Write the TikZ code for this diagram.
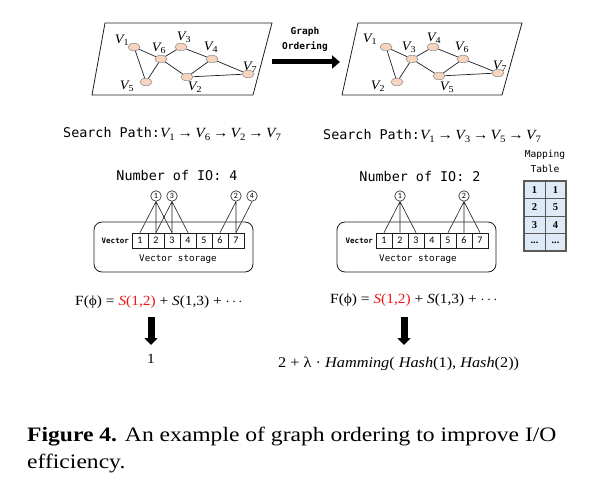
\documentclass[tikz,border=0pt]{standalone}
\usepackage{fontspec}
\setmainfont{Liberation Serif}
\newfontfamily\monof{DejaVu Sans Mono}
\newfontfamily\calf{Carlito}
\newfontfamily\formf[FakeStretch=1.1]{Liberation Serif}
\newfontfamily\capf[FakeStretch=1.15]{Liberation Serif}
\newcommand{\vv}[1]{{\formf\itshape V}\textsubscript{\formf #1}}
\newcommand{\arr}{\,{\formf →}\,}
\usetikzlibrary{arrows.meta,shapes.geometric}

\definecolor{vfill}{RGB}{247,212,190}
\definecolor{vdraw}{RGB}{150,150,150}
\definecolor{edgec}{RGB}{25,30,35}
\definecolor{tfill}{RGB}{222,235,247}
\definecolor{tdraw}{RGB}{90,90,90}
\definecolor{sred}{RGB}{240,20,20}

\begin{document}
\begin{tikzpicture}[x=1pt,y=-1pt,
  vert/.style={ellipse, draw=vdraw, fill=vfill, minimum width=12pt, minimum height=7.5pt, inner sep=0pt, line width=0.6pt},
  vlab/.style={font=\fontsize{13}{13}\selectfont, inner sep=0pt},
  gedge/.style={draw=edgec, line width=0.7pt},
  plane/.style={draw=edgec, line width=0.8pt},
  bigarrow/.style={line width=5pt, -{Triangle[length=8pt,width=13pt]}},
  downarrow/.style={line width=7pt, -{Triangle[length=7pt,width=13pt]}},
  monotxt/.style={font=\monof\fontsize{13.4}{14}\selectfont, inner sep=0pt},
  cell/.style={draw=edgec, line width=0.6pt, minimum width=16pt, minimum height=15pt, inner sep=0pt, font=\calf\fontsize{10}{10}\selectfont},
  numc/.style={circle, draw=edgec, line width=0.6pt, minimum size=10.5pt, inner sep=0pt, font=\calf\fontsize{8}{8}\selectfont},
  storebox/.style={draw=edgec, line width=0.8pt, rounded corners=8pt, minimum width=159pt, minimum height=50pt, inner sep=0pt},
  vecl/.style={font=\monof\bfseries\fontsize{7.5}{8}\selectfont, inner sep=0pt},
  storel/.style={font=\monof\fontsize{9.2}{10}\selectfont, inner sep=0pt},
  link/.style={draw=edgec, line width=0.6pt},
  formula/.style={font=\formf\fontsize{14}{16}\selectfont, inner sep=0pt},
  tcell/.style={font=\bfseries\fontsize{10.5}{11}\selectfont, inner sep=0pt},
  captxt/.style={font=\capf\fontsize{20.5}{27}\selectfont, inner sep=0pt}
]
\useasboundingbox (0,0) rectangle (600,484);

% ---------- left graph ----------
\draw[plane] (105,23) -- (272,23) -- (253,95) -- (92,95) -- cycle;
\node[vert] (a1) at (134,47) {};
\node[vert] (a6) at (161,59) {};
\node[vert] (a3) at (181,47) {};
\node[vert] (a4) at (212,59) {};
\node[vert] (a5) at (146,82) {};
\node[vert] (a2) at (187,77) {};
\node[vert] (a7) at (248,74) {};
\draw[gedge] (a1) -- (a6) (a1) -- (a5) (a5) -- (a6) (a6) -- (a3) (a6) -- (a2)
  (a3) -- (a4) (a4) -- (a2) (a4) -- (a7) (a2) -- (a7);
\node[vlab] (la1) at (122,40) {\vv{1}};
\node[vlab] (la6) at (159,48) {\vv{6}};
\node[vlab] (la3) at (184,37) {\vv{3}};
\node[vlab] (la4) at (211,47) {\vv{4}};
\node[vlab] (la5) at (127,86) {\vv{5}};
\node[vlab] (la2) at (195,87) {\vv{2}};
\node[vlab] (la7) at (250,67) {\vv{7}};

% ---------- graph ordering arrow ----------
\coordinate (ga1) at (272,62);
\coordinate (ga2) at (340,62);
\draw[bigarrow] (ga1) -- (ga2);
\node[font=\monof\bfseries\fontsize{9.5}{10}\selectfont, inner sep=0pt] (go1) at (305,32) {Graph};
\node[font=\monof\bfseries\fontsize{9.5}{10}\selectfont, inner sep=0pt] (go2) at (305,47) {Ordering};

% ---------- right graph ----------
\draw[plane] (358,23) -- (522,23) -- (502,95) -- (342,95) -- cycle;
\node[vert] (b1) at (386,47) {};
\node[vert] (b3) at (412,59) {};
\node[vert] (b4) at (433,47) {};
\node[vert] (b6) at (463,59) {};
\node[vert] (b2) at (397,82) {};
\node[vert] (b5) at (439,76) {};
\node[vert] (b7) at (498,73) {};
\draw[gedge] (b1) -- (b3) (b1) -- (b2) (b2) -- (b3) (b3) -- (b4) (b3) -- (b5)
  (b4) -- (b6) (b6) -- (b5) (b6) -- (b7) (b5) -- (b7);
\node[vlab] (lb1) at (370,39) {\vv{1}};
\node[vlab] (lb3) at (409,47) {\vv{3}};
\node[vlab] (lb4) at (434,38) {\vv{4}};
\node[vlab] (lb6) at (462,47) {\vv{6}};
\node[vlab] (lb2) at (378,86) {\vv{2}};
\node[vlab] (lb5) at (447,87) {\vv{5}};
\node[vlab] (lb7) at (500,66) {\vv{7}};

% ---------- search paths ----------
\node[monotxt, anchor=base west] (spL) at (63,138) {Search Path:{\fontsize{14}{14}\selectfont\vv{1}\arr\vv{6}\arr\vv{2}\arr\vv{7}}};
\node[monotxt, anchor=base west] (spR) at (323,140) {Search Path:{\fontsize{14}{14}\selectfont\vv{1}\arr\vv{3}\arr\vv{5}\arr\vv{7}}};

\node[monotxt, anchor=base] (ioL) at (177,180) {Number of IO: 4};
\node[monotxt, anchor=base] (ioR) at (420,182) {Number of IO: 2};

% ---------- left storage ----------
\node[storebox] (boxL) at (173.5,247) {};
\foreach \i in {1,...,7} {
  \node[cell, fill=white] (L\i) at ({132+16*(\i-0.5)},240.5) {\i};
}
\node[vecl, anchor=east] (vecL) at (129,241) {Vector};
\node[storel] (stL) at (178,259) {Vector storage};
\node[numc] (cL1) at (156,196) {1};
\node[numc] (cL3) at (172,196) {3};
\node[numc] (cL2) at (236,196) {2};
\node[numc] (cL4) at (252,196) {4};
\draw[link] (cL1.south) -- (L1.north) (cL1.south) -- (L2.north) (cL1.south) -- (L3.north);
\draw[link] (cL3.south) -- (L2.north) (cL3.south) -- (L3.north) (cL3.south) -- (L4.north);
\draw[link] (cL2.south) -- (L6.north) (cL2.south) -- (L7.north);
\draw[link] (cL4.south) -- (L7.north);

% ---------- right storage ----------
\node[storebox] (boxR) at (416.5,247) {};
\foreach \i in {1,...,7} {
  \node[cell, fill=white] (R\i) at ({376+16*(\i-0.5)},240.5) {\i};
}
\node[vecl, anchor=east] (vecR) at (373,241) {Vector};
\node[storel] (stR) at (418,259) {Vector storage};
\node[numc] (cR1) at (400,196) {1};
\node[numc] (cR2) at (464,196) {2};
\draw[link] (cR1.south) -- (R1.north) (cR1.south) -- (R2.north) (cR1.south) -- (R3.north);
\draw[link] (cR2.south) -- (R5.north) (cR2.south) -- (R6.north) (cR2.south) -- (R7.north);

% ---------- mapping table ----------
\node[font=\monof\fontsize{9.6}{10}\selectfont, inner sep=0pt, anchor=base] (mt1) at (545,158) {Mapping};
\node[font=\monof\fontsize{9.6}{10}\selectfont, inner sep=0pt, anchor=base] (mt2) at (545,172) {Table};
\fill[tfill] (524,181) rectangle (566,251);
\draw[tdraw, line width=0.7pt] (545,181) -- (545,251)
  (524,198.5) -- (566,198.5) (524,216) -- (566,216) (524,233.5) -- (566,233.5);
\draw[tdraw, line width=1.3pt] (524,181) rectangle (566,251);
\node[tcell] (t11) at (534.5,190) {1};
\node[tcell] (t12) at (555.5,190) {1};
\node[tcell] (t21) at (534.5,207.5) {2};
\node[tcell] (t22) at (555.5,207.5) {5};
\node[tcell] (t31) at (534.5,225) {3};
\node[tcell] (t32) at (555.5,225) {4};
\node[tcell] (t41) at (534.5,242.5) {...};
\node[tcell] (t42) at (555.5,242.5) {...};

% ---------- formulas ----------
\node[formula, anchor=base west] (fL) at (75,305) {F(ϕ) = \textcolor{sred}{\textit{S}(1,2)} + \textit{S}(1,3) + $\cdots$};
\node[formula, anchor=base west] (fR) at (330,303) {F(ϕ) = \textcolor{sred}{\textit{S}(1,2)} + \textit{S}(1,3) + $\cdots$};
\coordinate (dl1) at (151,317);
\coordinate (dl2) at (151,345);
\draw[downarrow] (dl1) -- (dl2);
\coordinate (dr1) at (404,317);
\coordinate (dr2) at (404,345);
\draw[downarrow] (dr1) -- (dr2);
\node[formula, anchor=base] (rL) at (151,363) {1};
\node[formula, font=\formf\fontsize{14.8}{16}\selectfont, anchor=base west] (rR) at (278,367) {2 + λ · \textit{Hamming}( \textit{Hash}(1), \textit{Hash}(2))};

% ---------- caption ----------
\node[captxt, anchor=base west] (cap1) at (27,441) {\textbf{Figure 4.} An example of graph ordering to improve I/O};
\node[captxt, anchor=base west] (cap2) at (27,468) {efficiency.};
\end{tikzpicture}
\end{document}
